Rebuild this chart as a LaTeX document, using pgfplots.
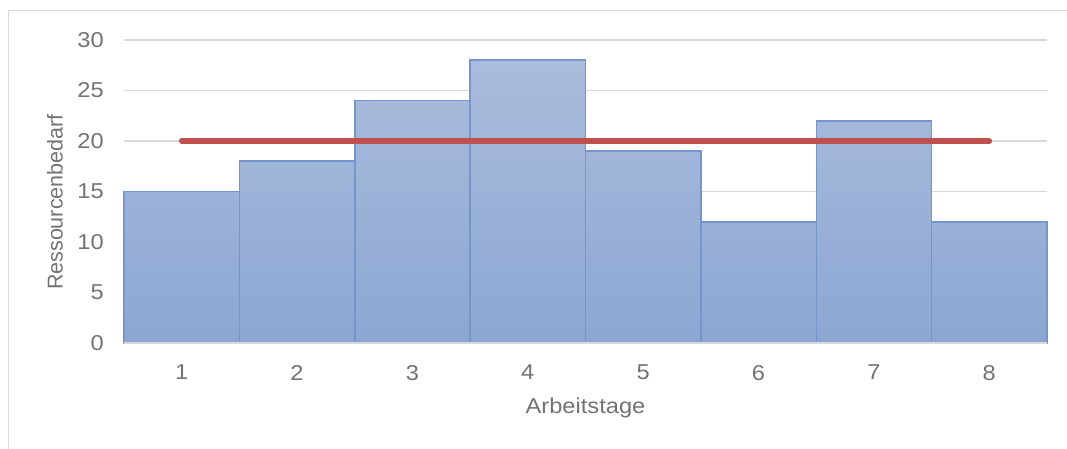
\documentclass[border=0pt]{standalone}
\usepackage{pgfplots}
\pgfplotsset{compat=1.18}
\usepackage{fontspec}
\setmainfont{Liberation Sans}[FakeStretch=1.1]
\newfontfamily\ylabelfont{Liberation Sans}

\definecolor{txt}{HTML}{737373}
\definecolor{gridcol}{HTML}{D9D9D9}
\definecolor{bartop}{HTML}{AABCDC}
\definecolor{barbot}{HTML}{8CA7D3}
\definecolor{barline}{HTML}{7596CC}
\definecolor{limitred}{HTML}{C0504D}

\newcommand\chartfont{\fontsize{21.5}{25}\selectfont}

\begin{document}
\begin{tikzpicture}[x=1pt,y=1pt]
\clip (0,0) rectangle (1067,448);
\fill[white] (0,0) rectangle (1067,448);
% chart frame
\draw[gridcol, line width=1.3pt] (8.5,-10) -- (8.5,437.5) -- (1080,437.5);

\begin{axis}[
  at={(124pt,105pt)}, anchor=south west,
  scale only axis, width=923pt, height=303pt,
  xmin=0.5, xmax=8.5, ymin=0, ymax=30,
  xtick={1,...,8}, ytick={0,5,...,30},
  axis line style={draw=none},
  tick style={draw=none},
  ymajorgrids, grid style={gridcol, line width=1.3pt},
  clip=false,
  /pgf/number format/assume math mode=true,
  ticklabel style={font=\chartfont, text=txt},
  yticklabel style={anchor=east, inner sep=0pt, xshift=-20pt},
  xticklabel style={anchor=north, inner sep=0pt, yshift=-22pt},
  xlabel={Arbeitstage},
  xlabel style={at={(axis description cs:0.5,0)}, anchor=center, yshift=-65pt, font=\chartfont, text=txt},
  ylabel={Ressourcenbedarf},
  ylabel style={at={(axis description cs:-0.0748,0.465)}, anchor=center, font=\ylabelfont\chartfont, text=txt},
]
% daily resource demand
\addplot[ybar, bar width=1, bar shift=0pt, draw=barline, line width=1.5pt,
  top color=bartop, bottom color=barbot]
  coordinates {(1,15) (2,18) (3,24) (4,28) (5,19) (6,12) (7,22) (8,12)};
% baseline
\draw[gridcol, line width=1.5pt] (axis cs:0.5,0) -- (axis cs:8.5,0);
% capacity limit
\addplot[limitred, line width=5.5pt, line cap=round]
  coordinates {(1,20) (8,20)};
\end{axis}
\end{tikzpicture}
\end{document}
